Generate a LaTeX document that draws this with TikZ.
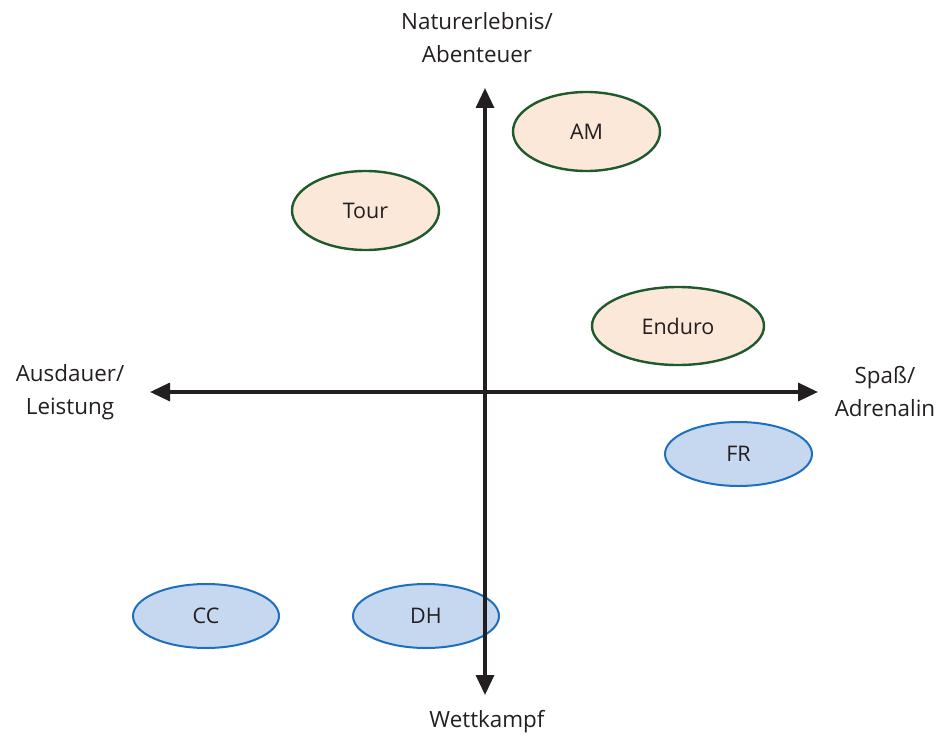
\documentclass[tikz,border=0pt]{standalone}
\usepackage{fontspec}
\setmainfont{Open Sans}
\usetikzlibrary{arrows.meta,shapes.geometric}
\definecolor{axisgray}{HTML}{231F20}
\definecolor{greenline}{HTML}{1E5A2C}
\definecolor{peach}{HTML}{FCE8D9}
\definecolor{blueline}{HTML}{1F6FBF}
\definecolor{lightblue}{HTML}{C5D8EF}
\begin{document}
\begin{tikzpicture}[x=1pt,y=-1pt,
  nature/.style={ellipse,draw=greenline,line width=2.4pt,fill=peach,inner sep=0pt,text=axisgray,font=\fontsize{21.5}{25}\selectfont},
  race/.style={ellipse,draw=blueline,line width=2pt,fill=lightblue,inner sep=0pt,text=axisgray,font=\fontsize{21.5}{25}\selectfont},
  axislabel/.style={align=center,text=axisgray,font=\fontsize{22.4}{33}\selectfont},
  axis/.style={line width=3.4pt,draw=axisgray,-{Triangle[length=20pt,width=18pt]}}]
\useasboundingbox (0,0) rectangle (944,738);
\node [nature,minimum width=147pt,minimum height=79pt] (a) at (586.5,131.5) {AM};
\node [nature,minimum width=147pt,minimum height=79pt] (b) at (365.5,210.5) {Tour};
\node [nature,minimum width=172pt,minimum height=78pt] (c) at (678,326) {Enduro};
\node [race,minimum width=147pt,minimum height=64pt] (d) at (738.5,454) {FR};
\node [race,minimum width=146pt,minimum height=64pt] (e) at (206,616) {CC};
\node [race,minimum width=146pt,minimum height=64pt] (f) at (426,616) {DH};
% axes
\coordinate (o) at (485,392);
\coordinate (top) at (485,88);
\coordinate (bottom) at (485,695);
\coordinate (left) at (150,392);
\coordinate (right) at (818,392);
\draw [axis] (o) -- (top);
\draw [axis] (o) -- (bottom);
\draw [axis] (o) -- (left);
\draw [axis] (o) -- (right);
% labels
\node [axislabel] (n) at (477,38) {Naturerlebnis/\\Abenteuer};
\node [axislabel] (w) at (487,722) {Wettkampf};
\node [axislabel] (l) at (70,392) {Ausdauer/\\Leistung};
\node [axislabel] (r) at (885,392) {Spaß/\\Adrenalin};
\end{tikzpicture}
\end{document}
